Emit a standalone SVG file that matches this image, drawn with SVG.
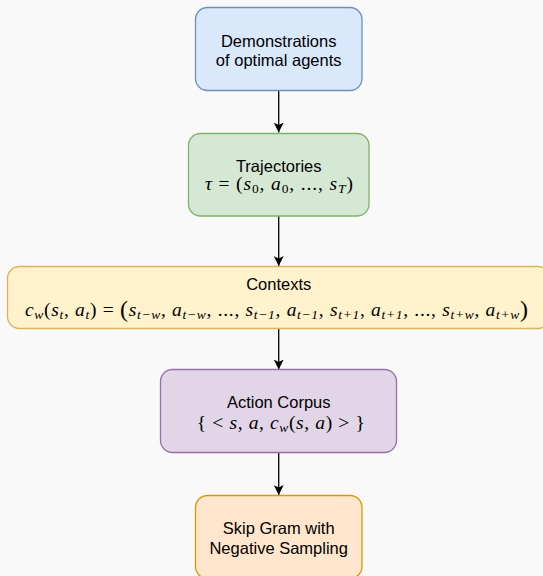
<svg xmlns="http://www.w3.org/2000/svg" width="543" height="576" viewBox="0 0 543 576">
<style>
.node{stroke-width:1.3}
.lbl{font-family:"Liberation Sans",Arial,sans-serif;font-size:16.5px;fill:#000;text-anchor:middle}
.m{font-family:"Liberation Serif","Times New Roman",serif;font-size:19.5px;fill:#000;text-anchor:middle}
.i{font-style:italic}
.sb{font-size:13.5px;font-style:italic}
.sn{font-size:13.5px;font-style:normal}
.conn{stroke:#000;stroke-width:1.3;fill:none}
</style>
<defs>
<marker id="arr" viewBox="0 0 10 10" refX="10" refY="5" markerWidth="10" markerHeight="10" markerUnits="userSpaceOnUse" orient="auto">
<path d="M0,0 L10,5 L0,10 L2.5,5 z" fill="#000"/>
</marker>
</defs>
<rect width="543" height="576" fill="#f9f9f9"/>
<g id="connectors">
<line class="conn" x1="278.7" y1="90.5" x2="278.7" y2="132.5" marker-end="url(#arr)"/>
<line class="conn" x1="278.7" y1="216" x2="278.7" y2="266" marker-end="url(#arr)"/>
<line class="conn" x1="278.7" y1="328.5" x2="278.7" y2="369.5" marker-end="url(#arr)"/>
<line class="conn" x1="278.7" y1="452.5" x2="278.7" y2="495" marker-end="url(#arr)"/>
</g>
<g id="demonstrations">
<rect class="node" x="195.5" y="7.5" width="166.5" height="83" rx="12" fill="#dae8fc" stroke="#6c8ebf"/>
<text class="lbl" x="278.7" y="46.5">Demonstrations</text>
<text class="lbl" x="278.7" y="65.5">of optimal agents</text>
</g>
<g id="trajectories">
<rect class="node" x="188.5" y="133.5" width="180.5" height="82.5" rx="12" fill="#d5e8d4" stroke="#82b366"/>
<text class="lbl" x="278.7" y="171.5">Trajectories</text>
<text class="m" x="278.9" y="189.5" textLength="148" lengthAdjust="spacing"><tspan class="i">τ</tspan> = (<tspan class="i">s</tspan><tspan class="sn" dy="3">0</tspan><tspan dy="-3">, </tspan><tspan class="i">a</tspan><tspan class="sn" dy="3">0</tspan><tspan dy="-3">, ..., </tspan><tspan class="i">s</tspan><tspan class="sb" dy="3">T</tspan><tspan dy="-3">)</tspan></text>
</g>
<g id="contexts">
<rect class="node" x="7.5" y="266.5" width="542" height="62" rx="12" fill="#fff2cc" stroke="#d6b656"/>
<text class="lbl" x="278.7" y="290">Contexts</text>
<text class="m" x="276.5" y="315.5" textLength="503" lengthAdjust="spacing"><tspan class="i">c</tspan><tspan class="sb" dy="3">w</tspan><tspan dy="-3">(</tspan><tspan class="i">s</tspan><tspan class="sb" dy="3">t</tspan><tspan dy="-3">, </tspan><tspan class="i">a</tspan><tspan class="sb" dy="3">t</tspan><tspan dy="-3">) = </tspan><tspan font-size="24" dy="1">(</tspan><tspan class="i" dy="-1">s</tspan><tspan class="sb" dy="3">t−w</tspan><tspan dy="-3">, </tspan><tspan class="i">a</tspan><tspan class="sb" dy="3">t−w</tspan><tspan dy="-3">, ..., </tspan><tspan class="i">s</tspan><tspan class="sb" dy="3">t−1</tspan><tspan dy="-3">, </tspan><tspan class="i">a</tspan><tspan class="sb" dy="3">t−1</tspan><tspan dy="-3">, </tspan><tspan class="i">s</tspan><tspan class="sb" dy="3">t+1</tspan><tspan dy="-3">, </tspan><tspan class="i">a</tspan><tspan class="sb" dy="3">t+1</tspan><tspan dy="-3">, ..., </tspan><tspan class="i">s</tspan><tspan class="sb" dy="3">t+w</tspan><tspan dy="-3">, </tspan><tspan class="i">a</tspan><tspan class="sb" dy="3">t+w</tspan><tspan font-size="24" dy="-2">)</tspan></text>
</g>
<g id="action-corpus">
<rect class="node" x="160.5" y="369.5" width="236" height="83" rx="12" fill="#e1d5e7" stroke="#9673a6"/>
<text class="lbl" x="278.7" y="408.3">Action Corpus</text>
<text class="m" x="280.8" y="428.5" textLength="168" lengthAdjust="spacing">{ &lt; <tspan class="i">s</tspan>, <tspan class="i">a</tspan>, <tspan class="i">c</tspan><tspan class="sb" dy="3">w</tspan><tspan dy="-3">(</tspan><tspan class="i">s</tspan>, <tspan class="i">a</tspan>) &gt; }</text>
</g>
<g id="skip-gram">
<rect class="node" x="195.5" y="495.5" width="166.5" height="83" rx="12" fill="#ffe6cc" stroke="#d79b00"/>
<text class="lbl" x="278.7" y="534">Skip Gram with</text>
<text class="lbl" x="278.7" y="554">Negative Sampling</text>
</g>
</svg>
